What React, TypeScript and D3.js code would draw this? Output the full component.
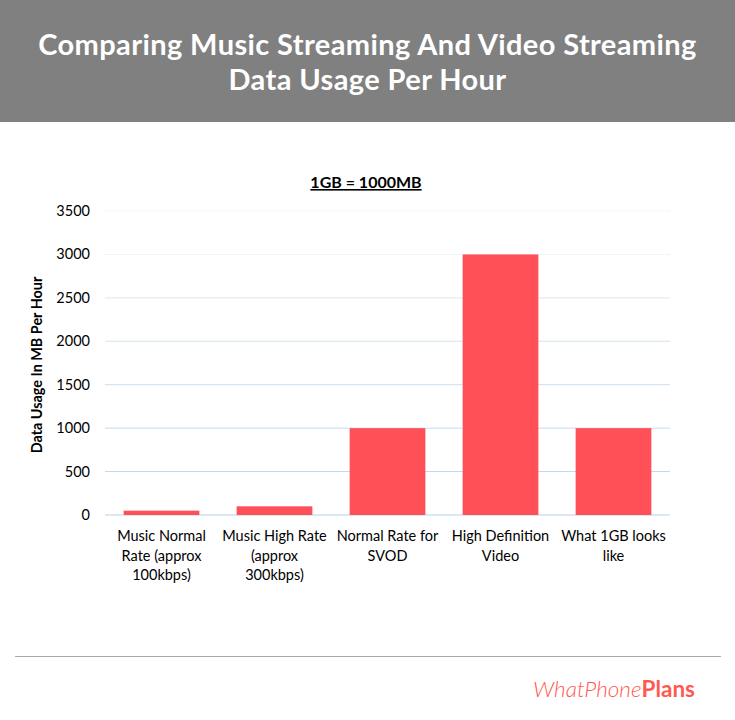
import React from "react";
import * as d3 from "d3";

const categories: string[][] = [
  ["Music Normal", "Rate (approx", "100kbps)"],
  ["Music High Rate", "(approx", "300kbps)"],
  ["Normal Rate for", "SVOD"],
  ["High Definition", "Video"],
  ["What 1GB looks", "like"],
];
const values: number[] = [50, 100, 1000, 3000, 1000];
const yTicks: number[] = [0, 500, 1000, 1500, 2000, 2500, 3000, 3500];
const titleLines: string[] = [
  "Comparing Music Streaming And Video Streaming",
  "Data Usage Per Hour",
];

const W = 735;
const H = 720;
const left = 105;
const right = 670;
const top = 211;
const bottom = 515;

export default function App() {
  const x = d3
    .scaleBand<number>()
    .domain(values.map((_, i) => i))
    .range([left, right])
    .paddingInner(0.33)
    .paddingOuter(0.165);
  const y = d3.scaleLinear().domain([0, 3500]).range([bottom, top]);
  const font = "Lato, 'Open Sans', sans-serif";
  const gridColor = d3.scaleLinear<string>().domain([0, 3500]).range(["#b9d3ea", "#e6f0f3"]);

  return (
    <svg
      width={W}
      height={H}
      style={{ position: "absolute", left: 0, top: 0, background: "#fff" }}
      fontFamily={font}
    >
      <rect x={0} y={0} width={W} height={122} fill="#808080" />
      {titleLines.map((t, i) => (
        <text
          key={i}
          x={W / 2}
          y={55 + i * 35}
          textAnchor="middle"
          fill="#fff"
          fontSize={29}
          fontWeight="bold"
          style={{ letterSpacing: "0.4px" }}
        >
          {t}
        </text>
      ))}

      <text
        x={366}
        y={188}
        textAnchor="middle"
        fontSize={16}
        fontWeight="bold"
        fill="#000"
        textDecoration="underline"
      >
        1GB = 1000MB
      </text>

      {yTicks.map((t) => (
        <g key={t}>
          {t > 0 && (
            <line
              x1={left}
              x2={right}
              y1={y(t)}
              y2={y(t)}
              stroke={gridColor(t)}
              strokeWidth={1}
              strokeDasharray={t >= 3000 ? "1,1" : undefined}
            />
          )}
          <text x={90} y={y(t) + 5} textAnchor="end" fontSize={14.5} fill="#000">
            {t}
          </text>
        </g>
      ))}
      <line x1={left} x2={right} y1={bottom} y2={bottom} stroke="#b9d3ea" />

      {values.map((v, i) => (
        <rect
          key={i}
          x={x(i)}
          y={y(v)}
          width={x.bandwidth()}
          height={bottom - y(v)}
          fill="#ff5057"
        />
      ))}

      {categories.map((lines, i) => (
        <text
          key={i}
          x={(x(i) as number) + x.bandwidth() / 2}
          textAnchor="middle"
          fontSize={14.5}
          fill="#000"
        >
          {lines.map((l, j) => (
            <tspan key={j} x={(x(i) as number) + x.bandwidth() / 2} y={541 + j * 19.5}>
              {l}
            </tspan>
          ))}
        </text>
      ))}

      <text
        transform={`translate(42, ${(top + bottom) / 2 + 2}) rotate(-90)`}
        textAnchor="middle"
        fontSize={14.4}
        fontWeight="bold"
        fill="#000"
      >
        Data Usage In MB Per Hour
      </text>

      <line x1={15} x2={721} y1={656.5} y2={656.5} stroke="#aaaaaa" strokeWidth={1} />

      <text x={695} y={697} textAnchor="end" fontSize={22.5} fill="#ff5a52">
        <tspan fontStyle="italic" fontWeight={300}>WhatPhone</tspan>
        <tspan fontWeight="bold">Plans</tspan>
      </text>
    </svg>
  );
}
